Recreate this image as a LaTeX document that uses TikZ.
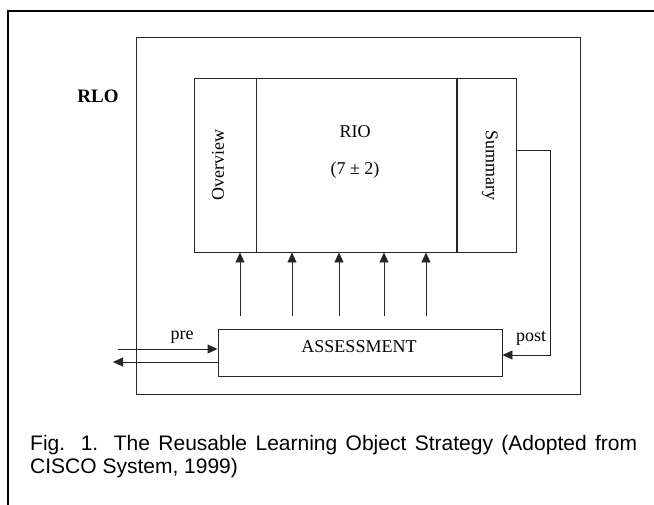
\documentclass[tikz,border=0pt]{standalone}
\usepackage{fontspec, graphicx}
\setmainfont{Liberation Serif}
\newfontfamily\capfont{Liberation Sans}
\usetikzlibrary{arrows.meta, positioning}
\colorlet{line edge}{black!85}
\tikzset{
  box/.style={draw=line edge, rectangle, inner sep=0pt, line width=0.9pt},
  boxtext/.style={font=\fontsize{18}{20}\selectfont, inner sep=0pt},
  edge/.style={draw=line edge, line width=0.9pt, -{Triangle[length=10pt,width=9pt]}},
  frame/.style={line width=2pt, line cap=rect},
  captext/.style={font=\capfont\fontsize{21}{24}\selectfont, inner sep=0pt}
}

\begin{document}
\begin{tikzpicture}[x=1pt, y=-1pt]
    \useasboundingbox (0,0) rectangle (654,504);
    \draw[frame] (7.5,505) -- (7.5,11) -- (655,11);
    \node[box, minimum width=444pt, minimum height=357pt] (rlo) at (358,215.5) {};
    \node[boxtext, font=\fontsize{19}{20}\selectfont\bfseries] (rlolabel) at (98,96) {RLO};
    \node[box, minimum width=62pt, minimum height=174pt] (overview) at (225,165) {};
    \node[box, minimum width=200pt, minimum height=174pt, right=0pt of overview] (rio) {};
    \node[box, minimum width=59pt, minimum height=174pt, right=0pt of rio] (summary) {};
    \node[boxtext, rotate=90] (overviewtext) at (218,165) {Overview};
    \node[boxtext, rotate=-90] (summarytext) at (490,165) {Summary};
    \node[boxtext] (riotext) at (355,132) {RIO};
    \node[boxtext] (rionum) at (355,170) {(7 ± 2)};
    \node[box, minimum width=284pt, minimum height=47pt] (assess) at (360,352.5) {};
    \node[boxtext] (assesstext) at (359,347) {ASSESSMENT};
    \node[boxtext] (prelabel) at (182,337) {pre};
    \node[boxtext] (postlabel) at (531,338) {post};
    \coordinate (feed) at ([yshift=13pt]assess.north);
    \foreach \x in {240,292,339,384,426}
        \draw[edge] (feed -| \x,0) -- (overview.south -| \x,0);
    \coordinate (prestart) at (118,349);
    \coordinate (preend) at (113,362);
    \draw[edge] (prestart) -- (prestart -| assess.west);
    \draw[edge] (preend -| assess.west) -- (preend);
    \coordinate (postturn) at (550,355);
    \draw[edge] (summary.east |- 0,150) -| (postturn) -- (postturn -| assess.east);
    \node[captext, anchor=base west] (caption1) at (30,450)
        {\makebox[607pt][s]{Fig. 1. The Reusable Learning Object Strategy (Adopted from}};
    \node[captext, anchor=base west] (caption2) at (30,473) {CISCO System, 1999)};
\end{tikzpicture}
\end{document}
